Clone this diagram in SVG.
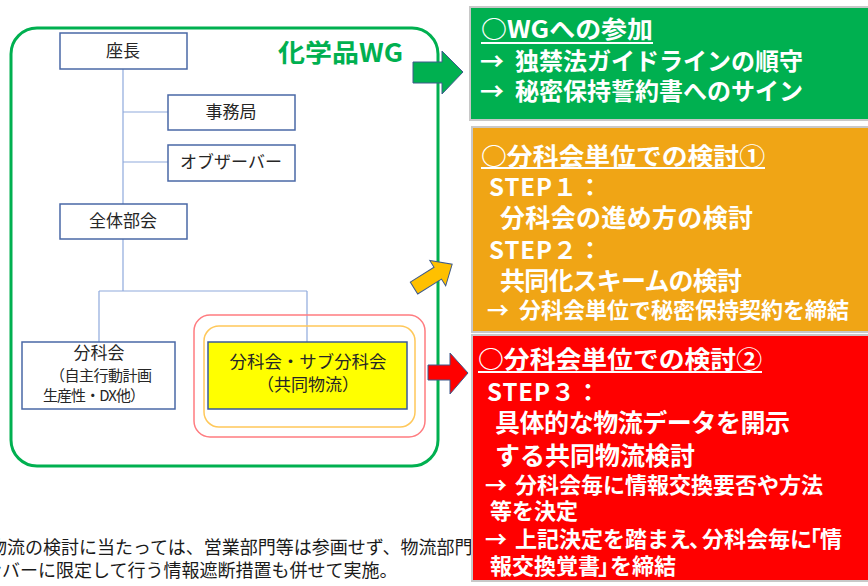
<svg xmlns="http://www.w3.org/2000/svg" width="868" height="586" viewBox="0 0 868 586">
<style>
.org{fill:#ffffff;stroke:#4a68a6;stroke-width:1.5}
.ot{font-family:"Noto Sans CJK JP","Noto Sans",sans-serif;font-size:17px;fill:#262626;text-anchor:middle}
.conn{stroke:#8faadc;stroke-width:1.2;fill:none}
.wt{font-family:"Noto Sans CJK JP","Noto Sans",sans-serif;font-weight:700;fill:#ffffff}
.ul{stroke:#ffffff;stroke-width:2}
.arr{stroke:#3e5b8c;stroke-width:1}
.bt{font-family:"Noto Sans CJK JP","Noto Sans",sans-serif;font-size:18px;fill:#1a1a1a}
</style>
<rect width="868" height="586" fill="#ffffff"/>

<!-- bottom note (partially hidden) -->
<g id="note">
<text class="bt" x="-11" y="554">物流の検討に当たっては、営業部門等は参画せず、物流部門</text>
<text class="bt" x="-34" y="577">メンバーに限定して行う情報遮断措置も併せて実施。</text>
</g>

<!-- WG frame -->
<g id="wg">
<rect x="11" y="28" width="427" height="438" rx="26" ry="26" fill="none" stroke="#00b050" stroke-width="3"/>
<text x="278" y="62" font-family="'Noto Sans CJK JP','Noto Sans',sans-serif" font-weight="700" font-size="25" fill="#00b050" textLength="125" lengthAdjust="spacingAndGlyphs">化学品WG</text>
</g>

<g id="connectors">
<path class="conn" d="M123,69 V204 M123,112 H168 M123,162 H168 M123,239 V291 M99,291 H307 M99,291 V342 M307,291 V342"/>
</g>

<g id="zacho"><rect class="org" x="60" y="33" width="127" height="36"/><text class="ot" x="123" y="57">座長</text></g>
<g id="jimukyoku"><rect class="org" x="168" y="95" width="127" height="35"/><text class="ot" x="231" y="118">事務局</text></g>
<g id="observer"><rect class="org" x="168" y="145" width="127" height="36"/><text class="ot" x="231" y="168">オブザーバー</text></g>
<g id="zentai"><rect class="org" x="60" y="204" width="127" height="35"/><text class="ot" x="123" y="227">全体部会</text></g>

<g id="bunkakai">
<rect class="org" x="22" y="342" width="153" height="67"/>
<text class="ot" x="99" y="359">分科会</text>
<text class="ot" x="50" y="381" style="text-anchor:start;font-size:15px" textLength="102">（自主行動計画</text>
<text class="ot" x="43" y="401" style="text-anchor:start;font-size:15px" textLength="102">生産性・DX他）</text>
</g>

<g id="sub-bunkakai">
<rect x="194" y="315" width="231" height="122" rx="16" ry="16" fill="none" stroke="#ff7c80" stroke-width="1.5"/>
<rect x="204" y="326" width="211" height="101" rx="15" ry="15" fill="none" stroke="#ffc85a" stroke-width="1.5"/>
<rect x="208" y="342" width="199" height="67" fill="#ffff00" stroke="#3a5a9a" stroke-width="1.5"/>
<text class="ot" x="308" y="368" textLength="157" lengthAdjust="spacingAndGlyphs">分科会・サブ分科会</text>
<text class="ot" x="308" y="391">（共同物流）</text>
</g>

<!-- right boxes -->
<g id="box-wg">
<rect x="470" y="7" width="400" height="113" fill="#00b050" stroke="#c8c8c8" stroke-width="2"/>
<text class="wt" x="481" y="38" font-size="24" textLength="172" lengthAdjust="spacingAndGlyphs">○WGへの参加</text>
<line class="ul" x1="481" y1="43" x2="653" y2="43"/>
<text class="wt" y="70" font-size="24"><tspan x="480">→</tspan><tspan x="515">独禁法ガイドラインの順守</tspan></text>
<text class="wt" y="100" font-size="24"><tspan x="480">→</tspan><tspan x="515">秘密保持誓約書へのサイン</tspan></text>
</g>

<g id="box-step12">
<rect x="472" y="127" width="398" height="205" fill="#f0a515" stroke="#c8c8c8" stroke-width="2"/>
<text class="wt" x="481" y="165" font-size="24" textLength="284" lengthAdjust="spacingAndGlyphs">○分科会単位での検討①</text>
<line class="ul" x1="481" y1="168" x2="765" y2="168"/>
<text class="wt" x="489" y="196" font-size="24" textLength="113">STEP１：</text>
<text class="wt" x="500" y="227" font-size="25" textLength="253">分科会の進め方の検討</text>
<text class="wt" x="489" y="259" font-size="24" textLength="113">STEP２：</text>
<text class="wt" x="500" y="290" font-size="25" textLength="242">共同化スキームの検討</text>
<text class="wt" y="318" font-size="22"><tspan x="487">→</tspan><tspan x="519">分科会単位で秘密保持契約を締結</tspan></text>
</g>

<g id="box-step3">
<rect x="472" y="335" width="398" height="246" fill="#ff0000" stroke="#c8c8c8" stroke-width="2"/>
<text class="wt" x="478" y="368" font-size="24" textLength="284" lengthAdjust="spacingAndGlyphs">○分科会単位での検討②</text>
<line class="ul" x1="478" y1="372" x2="762" y2="372"/>
<text class="wt" x="487" y="401" font-size="24" textLength="113">STEP３：</text>
<text class="wt" x="495" y="432" font-size="25" textLength="295">具体的な物流データを開示</text>
<text class="wt" x="495" y="465" font-size="25" textLength="200">する共同物流検討</text>
<text class="wt" y="493" font-size="22"><tspan x="485">→</tspan><tspan x="515">分科会毎に情報交換要否や方法</tspan></text>
<text class="wt" x="490" y="519" font-size="22">等を決定</text>
<text class="wt" y="547" font-size="22"><tspan x="485">→</tspan><tspan x="515">上記決定を踏まえ</tspan><tspan x="689">、</tspan><tspan x="702">分科会毎に</tspan><tspan x="799">「</tspan><tspan x="820">情</tspan></text>
<text class="wt" y="574" font-size="22"><tspan x="490">報交換覚書</tspan><tspan x="598">」</tspan><tspan x="610">を締結</tspan></text>
</g>

<!-- block arrows -->
<g id="arrows">
<polygon class="arr" fill="#00b050" points="413,62 442,62 442,51 463,72 442,94 442,83 413,83"/>
<polygon class="arr" fill="#ffc000" transform="translate(414,288) rotate(-32)" points="0,-7 28,-7 28,-15 45,0 28,15 28,7 0,7"/>
<polygon class="arr" fill="#ff0000" points="428,365 450,365 450,353 468,373 450,394 450,380 428,380"/>
</g>
</svg>
